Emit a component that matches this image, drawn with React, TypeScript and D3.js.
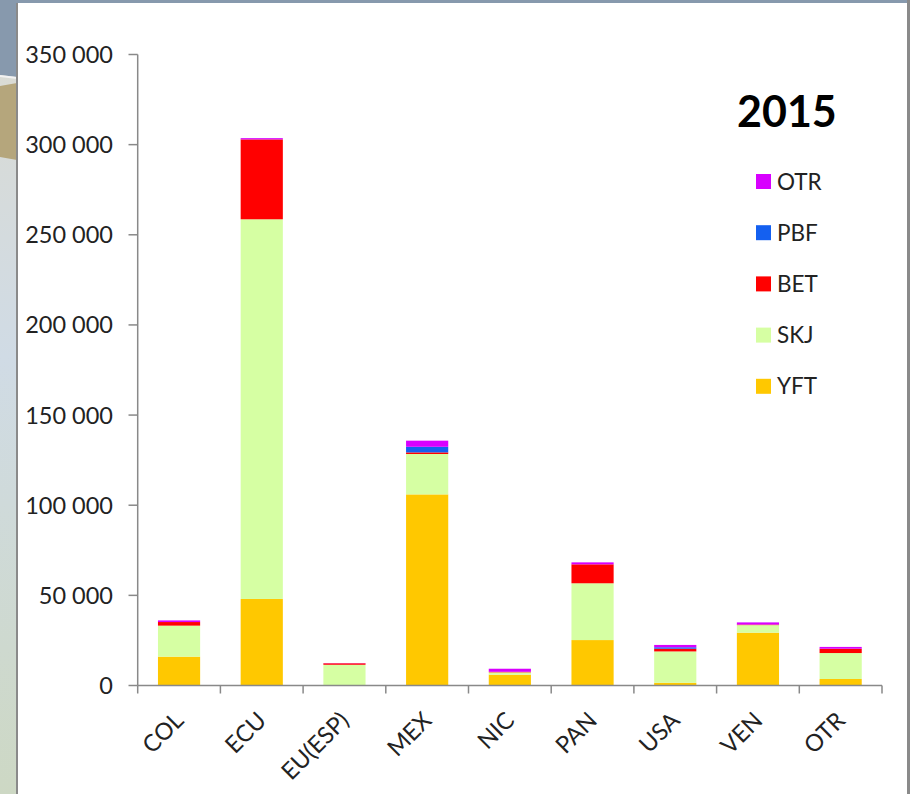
import React from "react";
import * as d3 from "d3";

const categories = ["COL", "ECU", "EU(ESP)", "MEX", "NIC", "PAN", "USA", "VEN", "OTR"];
const seriesNames = ["YFT", "SKJ", "BET", "PBF", "OTR"];
const YFT = [16000, 48000, 0, 106000, 6000, 25200, 1500, 29300, 3600];
const SKJ = [17200, 210600, 11500, 22400, 1300, 31500, 17400, 4200, 14400];
const BET = [2000, 44300, 800, 900, 300, 10500, 1500, 300, 2400];
const PBF = [0, 0, 0, 3100, 0, 0, 800, 0, 0];
const OTR = [900, 700, 100, 3400, 1700, 1100, 1300, 1200, 1000];
const yTicks = [0, 50000, 100000, 150000, 200000, 250000, 300000, 350000];
const colors = ["#FFC800", "#D6FFA3", "#FF0000", "#1460F0", "#D800FF"];
const title = "2015";

const W = 910;
const H = 794;
const FONT = "Lato, 'Open Sans', sans-serif";

export default function App() {
  const x = d3.scaleBand<string>().domain(categories).range([137.7, 882]).paddingInner(0.49).paddingOuter(0.245);
  const y = d3.scaleLinear().domain([0, 350000]).range([685.5, 54.5]);
  const fmt = d3.formatLocale({ decimal: ",", thousands: "\u00a0", grouping: [3], currency: ["", ""] }).format(",d");

  const rows = categories.map((c, i) => ({
    cat: c,
    YFT: YFT[i],
    SKJ: SKJ[i],
    BET: BET[i],
    PBF: PBF[i],
    OTR: OTR[i],
  }));
  const stack = d3.stack<any>().keys(seriesNames)(rows);
  const [x0, x1] = x.range();
  const step = x.step();
  const boundaries = d3.range(categories.length + 1).map((i) => x0 + (i * (x1 - x0)) / categories.length);
  const axisColor = "#898989";

  const legendNames = seriesNames.slice().reverse();

  return (
    <svg width={W} height={H} style={{ position: "absolute", left: 0, top: 0, display: "block" }}>
      <defs>
        <linearGradient id="bgL" x1="0" y1="0" x2="0" y2="1">
          <stop offset="0" stopColor="#dcdbd0" />
          <stop offset="0.45" stopColor="#d0dbe5" />
          <stop offset="1" stopColor="#cdd8c4" />
        </linearGradient>
      </defs>
      {/* background strip */}
      <rect x={0} y={0} width={W} height={H} fill="url(#bgL)" />
      <polygon points="0,0 910,0 910,3 17,3 17,77 0,75" fill="#8799ad" />
      <polygon points="0,75 17,77 17,79 0,77" fill="#f2f2f2" />
      <polygon points="0,86 17,83 17,160 0,157" fill="#b5a67c" />
      {/* panel */}
      <rect x={17} y={3} width={890} height={H} fill="#ffffff" />
      <line x1={17} y1={3} x2={17} y2={H} stroke="#8a8a8a" strokeWidth={2} />
      <rect x={907} y={0} width={3} height={H} fill="#8a8a8a" />

      {/* bars */}
      {stack.map((s, si) => (
        <g key={seriesNames[si]} fill={colors[si]}>
          {s.map((d: any, i: number) => {
            const h = y(d[0]) - y(d[1]);
            if (h <= 0) return null;
            return <rect key={i} x={x(categories[i])} y={y(d[1])} width={x.bandwidth()} height={h} />;
          })}
        </g>
      ))}

      {/* y axis */}
      <line x1={x0} y1={y(350000)} x2={x0} y2={y(0)} stroke={axisColor} strokeWidth={1.5} />
      {yTicks.map((t) => (
        <g key={t}>
          <line x1={128.5} x2={x0} y1={y(t)} y2={y(t)} stroke={axisColor} strokeWidth={1.5} />
          <text x={113} y={y(t)} dy="0.36em" textAnchor="end" fontFamily={FONT} fontSize={23.5} fill="#222">
            {fmt(t)}
          </text>
        </g>
      ))}

      {/* x axis */}
      <line x1={x0} y1={y(0)} x2={x1} y2={y(0)} stroke={axisColor} strokeWidth={1.5} />
      {boundaries.map((b, i) => (
        <line key={i} x1={b} x2={b} y1={y(0)} y2={y(0) + 8} stroke={axisColor} strokeWidth={1.5} />
      ))}
      {categories.map((c) => {
        const cx = (x(c) as number) + x.bandwidth() / 2 + 6;
        const cy = 722;
        return (
          <text
            key={c}
            x={cx}
            y={cy}
            textAnchor="end"
            transform={`rotate(-45 ${cx} ${cy})`}
            fontFamily={FONT}
            fontSize={23.5}
            fill="#222"
          >
            {c}
          </text>
        );
      })}

      {/* title */}
      <text x={737} y={127} fontFamily={FONT} fontWeight={700} fontSize={43} fill="#000">
        {title}
      </text>

      {/* legend */}
      {legendNames.map((n, i) => {
        const cy = 181.5 + i * 51.2;
        const ci = seriesNames.indexOf(n);
        return (
          <g key={n}>
            <rect x={756} y={cy - 7.5} width={15} height={15} fill={colors[ci]} />
            <text x={777} y={cy} dy="0.36em" fontFamily={FONT} fontSize={22.5} fill="#222">
              {n}
            </text>
          </g>
        );
      })}
    </svg>
  );
}
